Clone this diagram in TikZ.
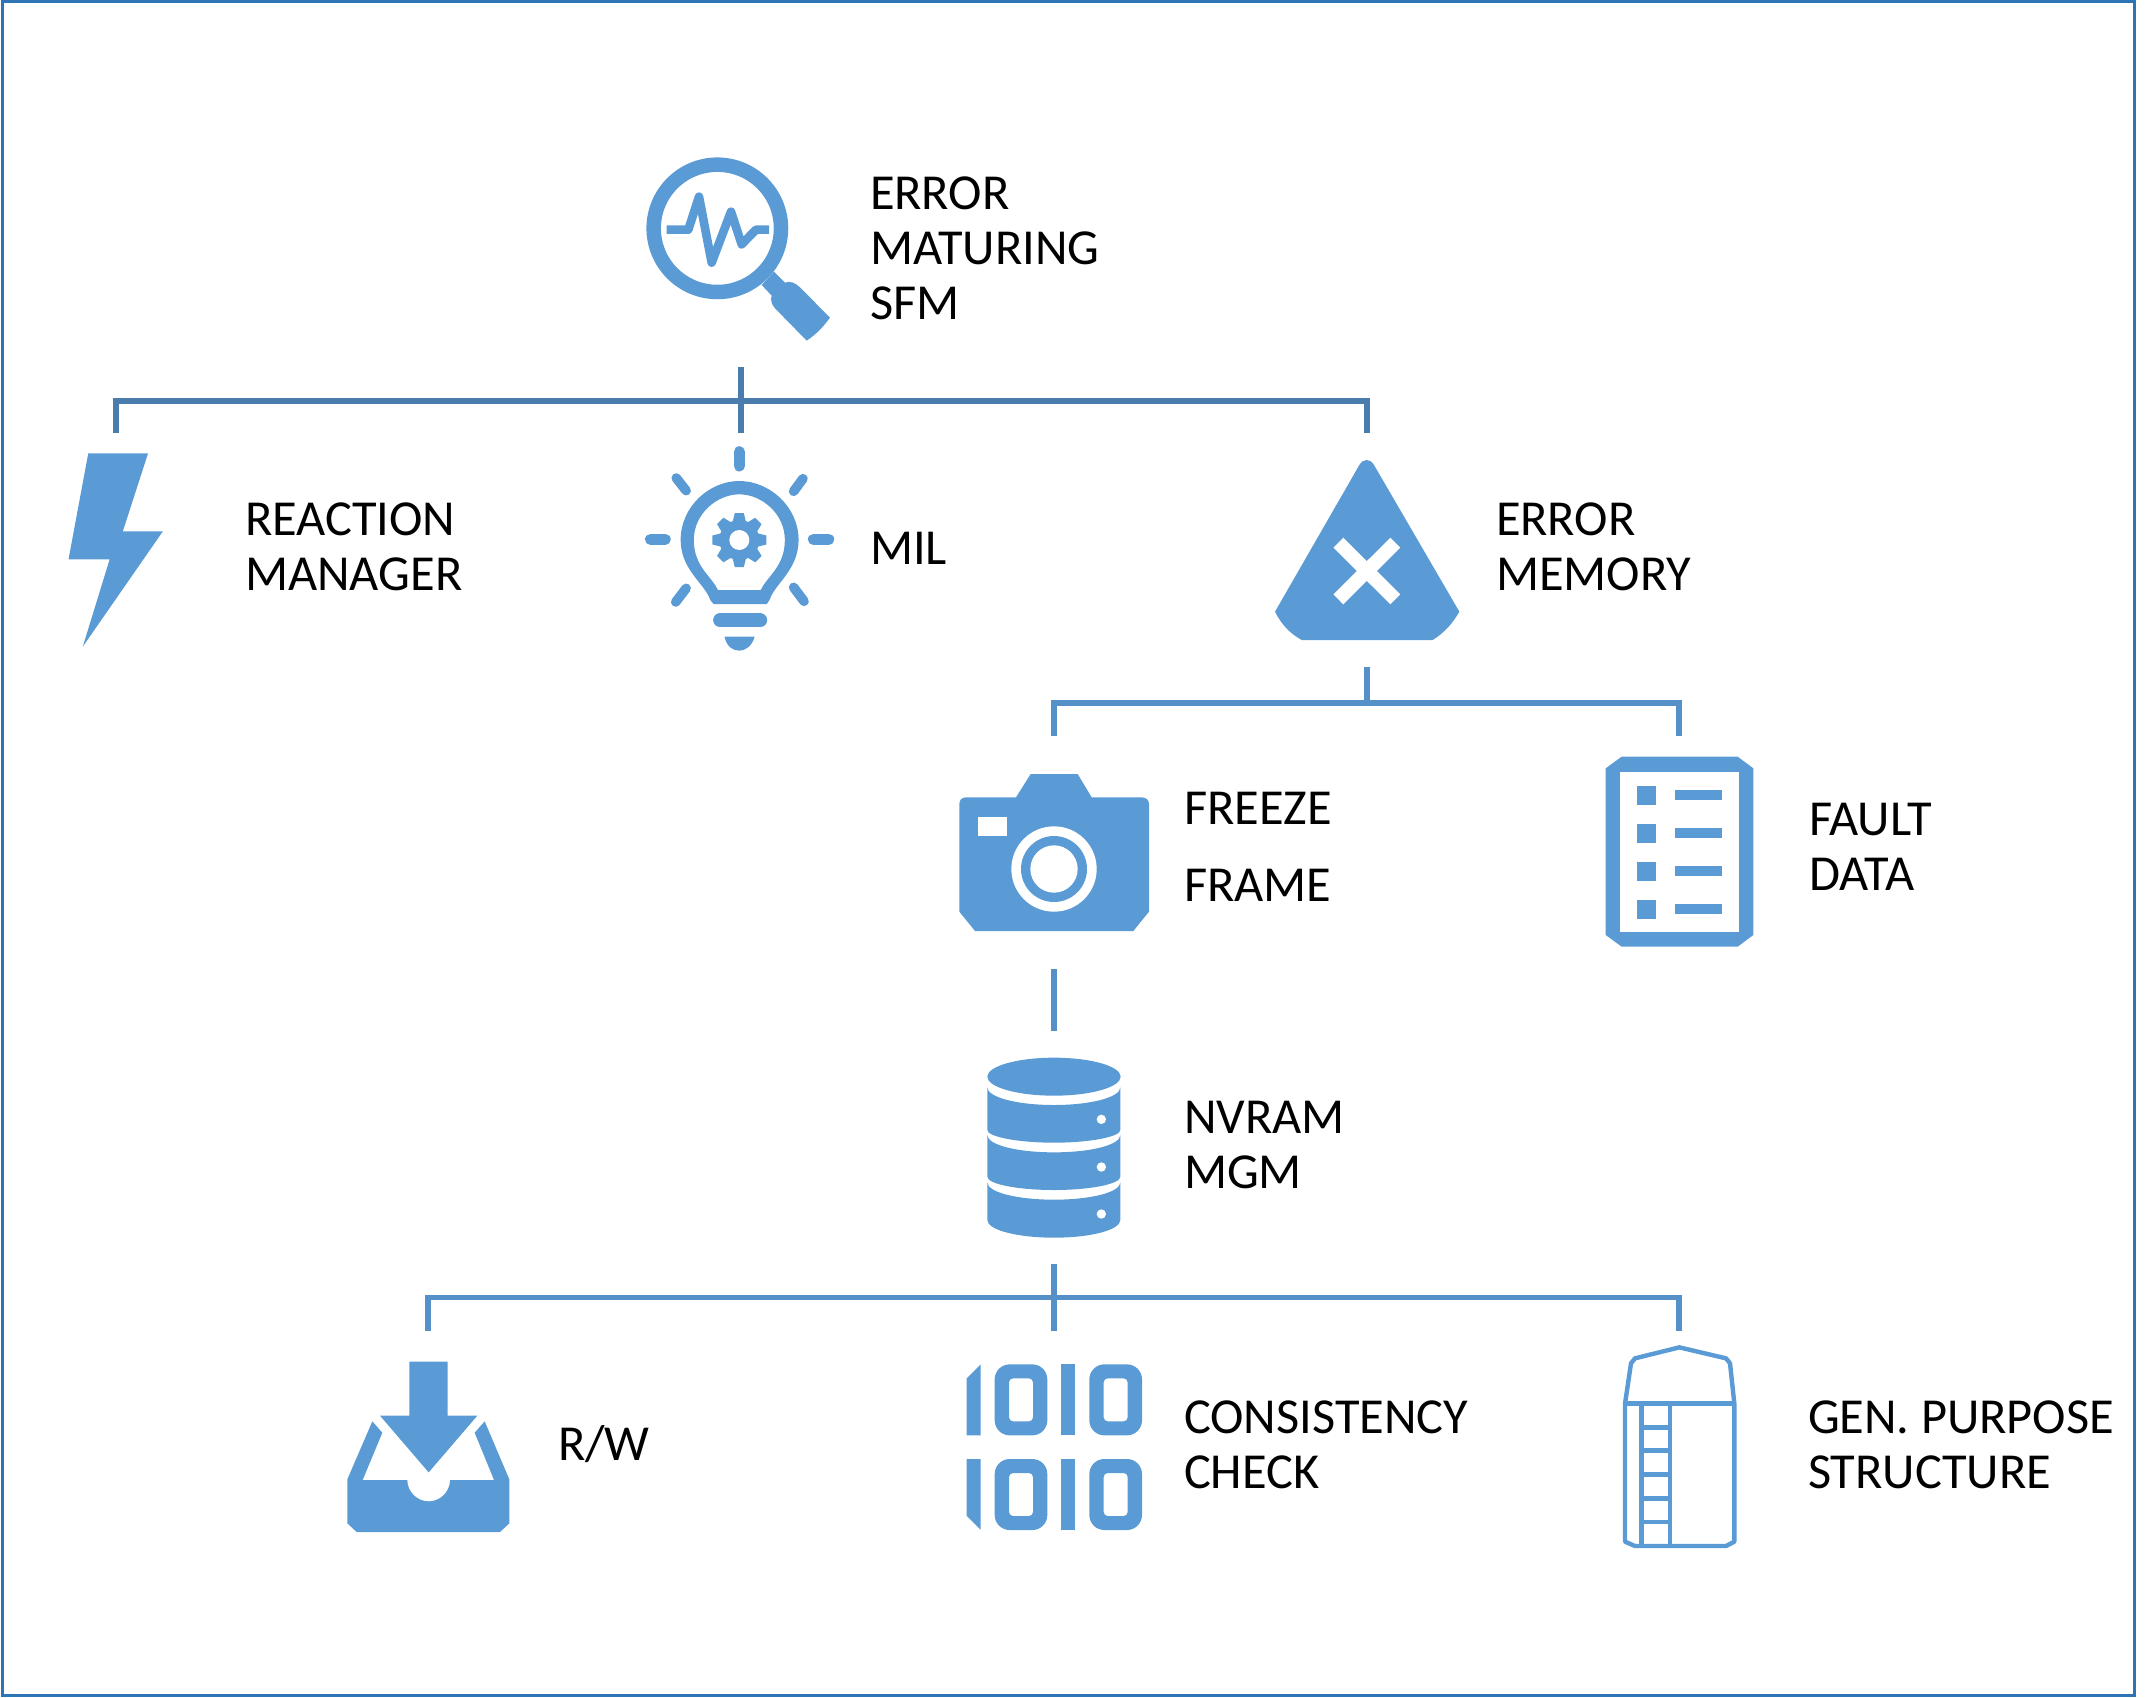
\documentclass[tikz,border=0pt]{standalone}
\usepackage{fontspec}
\setmainfont{Carlito}
\definecolor{icon}{HTML}{5B9BD5}
\definecolor{frameblue}{HTML}{2E75B6}
\definecolor{linkA}{HTML}{4A7DAD}
\definecolor{linkB}{HTML}{5590C8}
\tikzset{
  label/.style={anchor=base west,inner sep=0pt,outer sep=0pt,align=left,font=\fontsize{25.2}{27.5}\selectfont,text=black},
  linkdark/.style={draw=linkA,line width=2.7pt},
  linklight/.style={draw=linkB,line width=2.7pt},
  hole/.style={fill=white},
  ico/.style={fill=icon},
}
\newcommand{\bitzero}[2]{%
  \fill[icon,even odd rule,rounded corners=7.5pt] (#1,#2) rectangle ++(158,213)
    [rounded corners=2pt] (#1+43,#2+42) rectangle ++(72,129);}
\begin{document}
\begin{tikzpicture}[x=0.5pt,y=-0.5pt]
\useasboundingbox (0,0) rectangle (2156,1697);
\draw[frameblue,line width=1.6pt] (2.4,1.3) rectangle (2134.5,1695.5);

% connector ends
\coordinate (sfm) at (741,367);
\coordinate (reactionTop) at (116,433);
\coordinate (milTop) at (741,433);
\coordinate (memTop) at (1367,433);
\coordinate (memBottom) at (1367,667);
\coordinate (freezeTop) at (1054,736);
\coordinate (faultTop) at (1679,736);
\coordinate (freezeBottom) at (1054,969);
\coordinate (nvramTop) at (1054,1031);
\coordinate (nvramBottom) at (1054,1264);
\coordinate (rwTop) at (428,1331);
\coordinate (consTop) at (1054,1331);
\coordinate (silTop) at (1679,1331);

\draw[linkdark] (reactionTop) -- (reactionTop |- 0,401) -- (memTop |- 0,401) -- (memTop);
\draw[linkdark] (sfm) -- (milTop);
\draw[linklight] (freezeTop) -- (freezeTop |- 0,703) -- (faultTop |- 0,703) -- (faultTop);
\draw[linklight] (memBottom) -- (memBottom |- 0,703);
\draw[linklight] (freezeBottom) -- (nvramTop);
\draw[linklight] (rwTop) -- (rwTop |- 0,1297.5) -- (silTop |- 0,1297.5) -- (silTop);
\draw[linklight] (nvramBottom) -- (consTop);

% magnifier
\begin{scope}[shift={(620,130)},scale=1/3]
\draw[icon,line width=7.25pt] (292,295) circle [radius=191];
\draw[icon,line width=4.3pt,line join=round] (140,299) -- (205,299) -- (237,200) -- (275,398) -- (333,245) -- (365,343) -- (408,299) -- (447,299);
\fill[ico] (462,425) -- (495,458) .. controls (510,452) and (525,458) .. (540,472) -- (630,563) .. controls (610,590) and (590,612) .. (560,632) -- (465,535) .. controls (452,520) and (452,508) .. (455,497) -- (425,465) -- cycle;
\end{scope}

% bolt
\begin{scope}[shift={(40,370)},xscale=0.5485,yscale=1/3]
\fill[ico] (88,250) -- (197,250) -- (151,484) -- (224,484) -- (78,830) -- (127,568) -- (52,568) -- cycle;
\end{scope}

% bulb
\begin{scope}[shift={(40,370)},xscale=0.5485,yscale=1/3]
\fill[icon,even odd rule] (1222,690) .. controls (1212,640) and (1168,600) .. (1168,510) .. controls (1168,410) and (1220,333) .. (1275,333) .. controls (1330,333) and (1383,410) .. (1383,510) .. controls (1383,600) and (1340,640) .. (1330,690) -- (1325,702) -- (1228,702) -- cycle
 (1236,660) .. controls (1225,620) and (1192,590) .. (1192,510) .. controls (1192,430) and (1235,373) .. (1275,373) .. controls (1315,373) and (1358,430) .. (1358,510) .. controls (1358,590) and (1325,620) .. (1314,660) -- cycle;
\draw[icon,line width=5.5pt,line cap=round] (1275,245) -- (1275,288);
\draw[icon,line width=5.5pt,line cap=round] (1113,508) -- (1140,508);
\draw[icon,line width=5.5pt,line cap=round] (1410,508) -- (1438,508);
\draw[icon,line width=4.8pt,line cap=round] (1160,324) -- (1178,362);
\draw[icon,line width=4.8pt,line cap=round] (1391,326) -- (1374,364);
\draw[icon,line width=4.8pt,line cap=round] (1178,655) -- (1159,696);
\draw[icon,line width=4.8pt,line cap=round] (1374,652) -- (1393,694);
\draw[icon,line width=7pt,line cap=round] (1240,751) -- (1313,751);
\fill[ico] (1248,800) -- (1303,800) .. controls (1298,830) and (1285,842) .. (1275,842) .. controls (1263,842) and (1252,830) .. (1248,800) -- cycle;
\end{scope}
\begin{scope}[shift={(739.3,540)}]
\foreach \a in {0,45,...,315}{\fill[ico,rotate=\a] (-4.5,-27) -- (4.5,-27) -- (7,-17) -- (-7,-17) -- cycle;}
\fill[ico] (0,0) circle [radius=20];
\fill[hole] (0,0) circle [radius=10];
\end{scope}

% warning
\begin{scope}[shift={(1260,440)},scale=1/3]
\fill[ico] (298,75) .. controls (310,55) and (330,55) .. (342,75) -- (598,515) .. controls (575,555) and (550,580) .. (518,600) -- (125,600) .. controls (90,580) and (65,555) .. (45,515) -- cycle;
\draw[white,line width=7pt] (235,308) -- (406,478);
\draw[white,line width=7pt] (406,308) -- (235,478);
\end{scope}

% camera
\begin{scope}[shift={(950,760)},scale=1/3]
\fill[ico] (28,132) .. controls (28,120) and (36,112) .. (48,112) -- (198,112) -- (242,42) -- (383,42) -- (425,112) -- (575,112) .. controls (588,112) and (597,120) .. (597,132) -- (597,455) -- (550,513) -- (75,513) -- (28,455) -- cycle;
\fill[hole] (85,170) rectangle (171,228);
\fill[hole] (312,327) circle [radius=128];
\fill[ico] (312,327) circle [radius=99];
\fill[hole] (312,327) circle [radius=71];
\end{scope}

% fault data
\begin{scope}[shift={(1600,750)},scale=1/3]
\fill[ico] (17,55) -- (65,20) -- (413,20) -- (460,55) -- (460,555) -- (413,590) -- (65,590) -- (17,555) -- cycle;
\fill[hole] (60,65) rectangle (416,547);
\foreach \y/\b in {107/121,221/235,335/349,449/462}{
  \fill[ico] (110,\y) rectangle (167,\y+57);
  \fill[ico] (224,\b) rectangle (367,\b+29);
}
\end{scope}

% database
\begin{scope}[shift={(980,1050)},scale=1/3]
\fill[ico] (222,80) ellipse [x radius=200,y radius=57];
\fill[ico] (22,112) .. controls (22,142) and (112,165) .. (222,165) .. controls (332,165) and (421,142) .. (421,112) -- (421,240) .. controls (421,260) and (332,278) .. (222,278) .. controls (112,278) and (22,260) .. (22,240) -- cycle;
\fill[ico] (22,255) .. controls (22,285) and (112,307) .. (222,307) .. controls (332,307) and (421,285) .. (421,255) -- (421,380) .. controls (421,402) and (332,420) .. (222,420) .. controls (112,420) and (22,402) .. (22,380) -- cycle;
\fill[ico] (22,397) .. controls (22,427) and (112,449) .. (222,449) .. controls (332,449) and (421,427) .. (421,397) -- (421,510) .. controls (421,540) and (332,563) .. (222,563) .. controls (112,563) and (22,540) .. (22,510) -- cycle;
\foreach \y in {208,351,492}{\fill[hole] (364,\y) circle [radius=14];}
\end{scope}

% inbox
\begin{scope}[shift={(340,1360)},scale=1/3]
\fill[ico] (208,5) -- (323,5) -- (323,167) -- (412,167) -- (266,337) -- (120,167) -- (208,167) -- cycle;
\fill[ico] (97,184) -- (127,218) -- (68,360) -- (202,360) .. controls (202,395) and (231,424) .. (266,424) .. controls (301,424) and (330,395) .. (330,360) -- (462,360) -- (404,218) -- (434,184) -- (508,358) -- (508,490) -- (480,516) -- (50,516) -- (22,490) -- (22,358) -- cycle;
\end{scope}

% binary
\begin{scope}[shift={(960,1360)},scale=1/3]
\fill[ico] (20,55) -- (62,13) -- (62,226) -- (20,226) -- cycle;
\bitzero{104}{13}
\fill[ico] (303,13) rectangle (346,226);
\bitzero{388}{13}
\fill[ico] (20,297) -- (62,297) -- (62,509) -- (20,467) -- cycle;
\bitzero{104}{297}
\fill[ico] (303,297) rectangle (346,509);
\bitzero{388}{297}
\end{scope}

% silo
\begin{scope}[shift={(1620,1340)},scale=1/3]
\draw[icon,line width=2.2pt,line join=round] (15,191) -- (33,70) -- (45,55) -- (178,22) -- (318,55) -- (330,70) -- (343,191) -- (343,605) -- (318,618) -- (45,618) -- (15,605) -- cycle;
\draw[icon,line width=2.2pt] (15,191) -- (343,191);
\draw[icon,line width=2.2pt] (65,191) -- (65,618);
\draw[icon,line width=2.2pt] (150,191) -- (150,618);
\foreach \y in {262,332,404,476,546}{\draw[icon,line width=2.2pt] (65,\y) -- (150,\y);}
\end{scope}

% labels
\node[label] (tSfm) at (870,319) {ERROR\\MATURING\\SFM};
\node[label] (tReaction) at (245,590) {REACTION\\MANAGER};
\node[label] (tMil) at (870,564) {MIL};
\node[label] (tMem) at (1496,590) {ERROR\\MEMORY};
\node[label] (tFreeze) at (1184,901) {FREEZE\\[11pt]FRAME};
\node[label] (tFault) at (1809,890) {FAULT\\DATA};
\node[label] (tNvram) at (1184,1188) {NVRAM\\MGM};
\node[label] (tRw) at (558,1460) {R/W};
\node[label] (tCons) at (1184,1488) {CONSISTENCY\\CHECK};
\node[label] (tGen) at (1808,1488) {GEN. PURPOSE\\STRUCTURE};
\end{tikzpicture}
\end{document}
